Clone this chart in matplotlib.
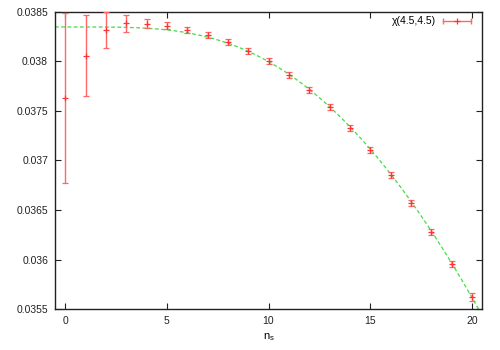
import numpy as np
import matplotlib
matplotlib.use("Agg")
import matplotlib.pyplot as plt

n_s = list(range(21))
chi = [0.03763, 0.038059, 0.038315, 0.038386, 0.038382, 0.038362, 0.038318,
       0.038271, 0.0382, 0.03811, 0.038005, 0.037864, 0.03771, 0.037537,
       0.037331, 0.037103, 0.03685, 0.036574, 0.036275, 0.035955, 0.035624]
chi_err = [0.00086, 0.00041, 0.00018, 0.000084, 0.000045, 0.000033, 0.00003,
           0.00003, 0.00003, 0.00003, 0.00003, 0.00003, 0.00003, 0.00003,
           0.00003, 0.00003, 0.00003, 0.00003, 0.00003, 0.000035, 0.00004]
label = "χ(4.5,4.5)"
xticks = [0, 5, 10, 15, 20]
yticks = [0.0355, 0.036, 0.0365, 0.037, 0.0375, 0.038, 0.0385]
ytick_labels = ["0.0355", "0.036", "0.0365", "0.037", "0.0375", "0.038", "0.0385"]

# fit function parameters: f(n) = a - c n^4 / (1 + d n^2)
fit_a = 0.038348
fit_c = 5.39e-8
fit_d = 0.0054

plt.rcParams['font.family'] = ['Liberation Sans', 'DejaVu Sans']

fig = plt.figure(figsize=(5, 3.5), dpi=100)
ax = fig.add_axes([0.11, 0.117, 0.854, 0.849])

x = np.array(n_s, dtype=float)
y = np.array(chi)
e = np.array(chi_err)

xf = np.linspace(-0.5, 20.5, 300)
yf = fit_a - fit_c * xf**4 / (1 + fit_d * xf**2)
ax.plot(xf, yf, color='#44dd44', lw=0.9, dashes=(3, 2), zorder=2)

ax.errorbar(x, y, yerr=e, fmt='+', color='#ff3333', ecolor='#ff6666',
            elinewidth=1.0, capsize=2.5, capthick=1.0, markersize=4,
            markeredgewidth=0.9, zorder=3)

ax.set_xlim(-0.5, 20.5)
ax.set_ylim(0.0355, 0.0385)
ax.set_xticks(xticks)
ax.set_xticklabels([str(t) for t in xticks])
ax.set_yticks(yticks)
ax.set_yticklabels(ytick_labels)
ax.tick_params(direction='in', length=4, width=0.8, top=True, right=True,
               labelsize=7.5, colors='#222222', pad=5)
for s in ax.spines.values():
    s.set_linewidth(1.0)
    s.set_color('#222222')

ax.set_xlabel(r'n$_\mathregular{s}$', fontsize=8, labelpad=4)

# gnuplot-style key
ky = 0.97
ax.text(0.893, ky, label, transform=ax.transAxes, ha='right', va='center',
        fontsize=7.5)
ax.plot([0.909, 0.974], [ky, ky], transform=ax.transAxes, color='#ff6666',
        lw=1.0, clip_on=False)
ax.plot([0.909, 0.974], [ky, ky], transform=ax.transAxes, color='#ff6666',
        marker='|', ls='none', ms=4, mew=1.0, clip_on=False)
ax.plot([0.9415], [ky], transform=ax.transAxes, color='#ff3333',
        marker='+', ls='none', ms=4, mew=0.9, clip_on=False)

fig.savefig('out.png', dpi=100)
